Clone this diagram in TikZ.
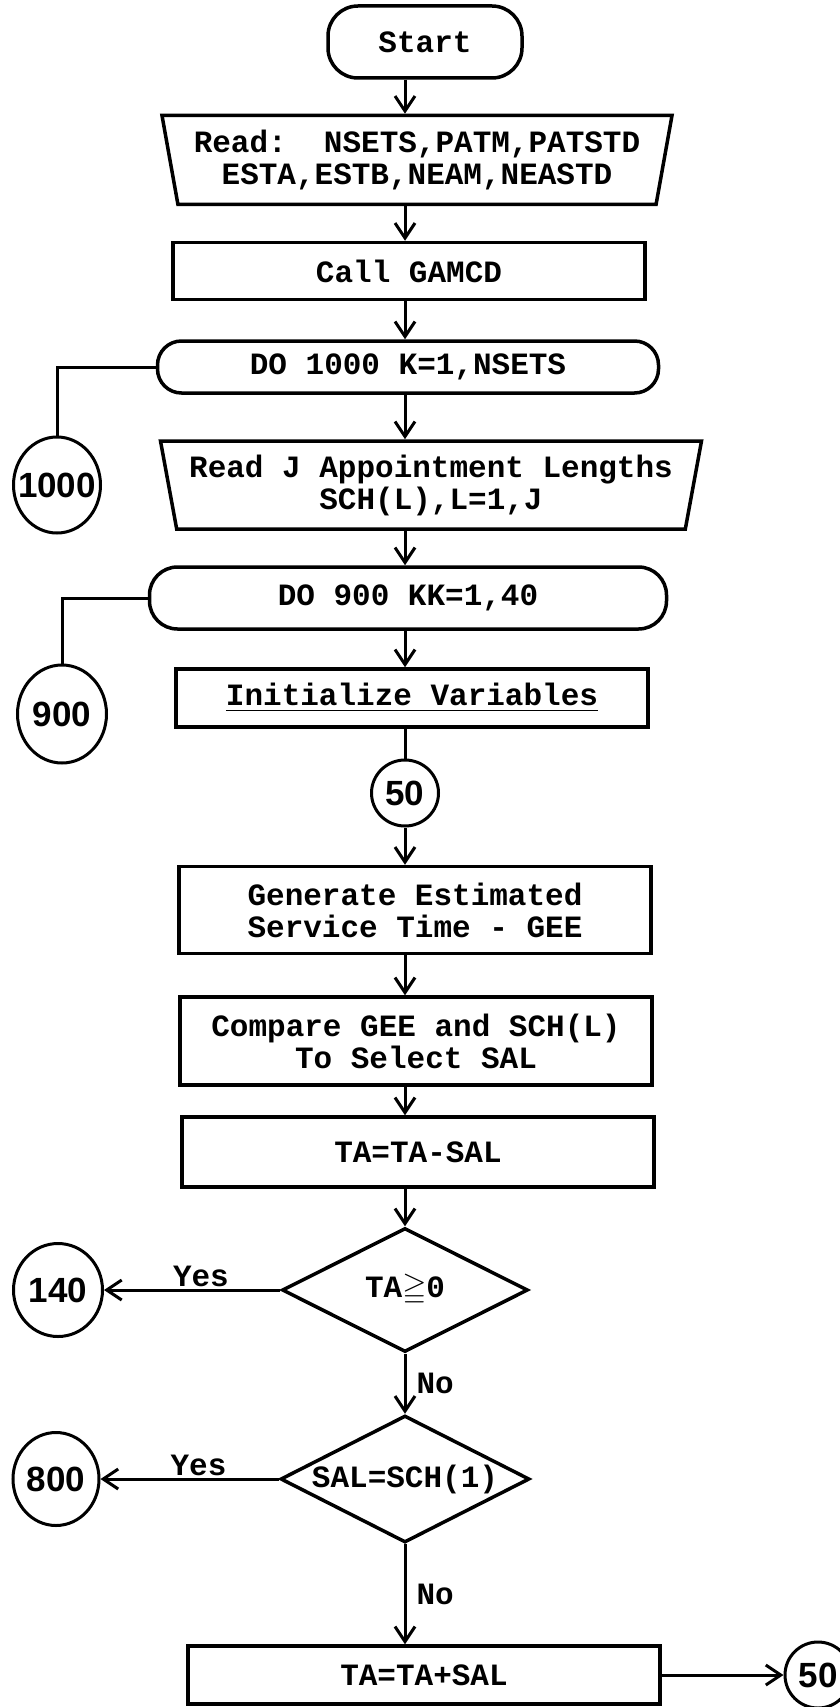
\documentclass[tikz,border=0pt]{standalone}
\usepackage{amssymb}
\usepackage{fontspec}
\usepackage{tikz}
\usetikzlibrary{shapes.geometric,arrows.meta,positioning}
\newfontfamily\flowtype{Liberation Mono}
\newfontfamily\flownum{Liberation Sans}
\newcommand{\cnum}[1]{\makebox[0pt]{#1}}

\begin{document}
\begin{tikzpicture}[
    x=1pt, y=-1pt,
    line width=3pt,
every node/.style = {inner sep=2pt, font=\flowtype\bfseries\fontsize{31}{32}\selectfont},
       arr/.style = {-{Straight Barb[length=15pt,width=20pt]}},
   procbox/.style = {draw, line width=3.5pt, rectangle, minimum width=472pt, align=center},
   loopbox/.style = {draw, line width=3.5pt, rectangle, rounded corners=24pt, align=center},
   readbox/.style = {draw, line width=3.5pt, trapezium, trapezium left angle=104,
                     trapezium right angle=104, trapezium stretches body, align=center},
    decide/.style = {draw, line width=3.5pt, diamond, aspect=2, inner sep=0pt},
      conn/.style = {draw, line width=3pt, ellipse, inner sep=0pt,
                     font=\flownum\bfseries\fontsize{35}{35}\selectfont}]
\useasboundingbox (0,0) rectangle (840,1707);
\fill[white] (0,0) rectangle (840,1707);
\coordinate (axis) at (405,0);

\node[loopbox, rounded corners=30pt, minimum width=194pt, minimum height=72pt]
                                        (start)  at (425,42)   {Start};
\node[readbox, minimum width=510pt, minimum height=89pt]
                                        (rdpar)  at (417,160)  {Read:\ \ NSETS,PATM,PATSTD\\ESTA,ESTB,NEAM,NEASTD};
\node[procbox, minimum height=57pt]     (gamcd)  at (409,271)  {Call GAMCD};
\node[loopbox, minimum width=501pt, minimum height=52pt]
                                        (do1000) at (408,367)  {DO 1000 K=1,NSETS};
\node[readbox, minimum width=541pt, minimum height=88pt]
                                        (rdsch)  at (431,485)  {Read J Appointment Lengths\\SCH(L),L=1,J};
\node[loopbox, rounded corners=28pt, minimum width=517pt, minimum height=62pt]
                                        (do900)  at (408,598)  {DO 900 KK=1,40};
\node[procbox, minimum height=58pt]     (init)   at (412,698)  {\underline{Initialize Variables}};
\node[conn, minimum width=67pt, minimum height=66pt]
                                        (c50)    at (405,793)  {\cnum{50}};
\node[procbox, minimum height=87pt]     (gee)    at (415,910)  {Generate Estimated\\Service Time - GEE};
\node[procbox, minimum height=88pt]     (sal)    at (416,1041) {Compare GEE and SCH(L)\\To Select SAL};
\node[procbox, minimum height=70pt]     (tasub)  at (418,1152) {TA=TA-SAL};
\node[decide, minimum width=246pt, minimum height=124pt]
                                        (tachk)  at (405,1290) {TA\(\geqq\)0};
\node[decide, minimum width=249pt, minimum height=127pt]
                                        (salchk) at (405,1479) {SAL=SCH(1)};
\node[procbox, minimum height=58pt]     (taadd)  at (424,1675) {TA=TA+SAL};
\node[conn, minimum size=66pt]          (c50b)   at (818,1675) {\cnum{50}};
\node[conn, minimum width=87pt, minimum height=96pt]
                                        (c1000)  at (57,485)   {\cnum{1000}};
\node[conn, minimum width=89pt, minimum height=98pt]
                                        (c900)   at (62,714)   {\cnum{900}};
\node[conn, minimum width=89pt, minimum height=93pt]
                                        (c140)   at (58,1290)  {\cnum{140}};
\node[conn, minimum width=86pt, minimum height=93pt]
                                        (c800)   at (56,1479)  {\cnum{800}};

    \draw[arr] (start.south -| axis)  -- (rdpar.north -| axis);
    \draw[arr] (rdpar.south -| axis)  -- (gamcd.north -| axis);
    \draw[arr] (gamcd.south -| axis)  -- (do1000.north -| axis);
    \draw[arr] (do1000.south -| axis) -- (rdsch.north -| axis);
    \draw[arr] (rdsch.south -| axis)  -- (do900.north -| axis);
    \draw[arr] (do900.south -| axis)  -- (init.north -| axis);
    \draw      (init.south -| axis)   -- (c50);
    \draw[arr] (c50)                  -- (gee.north -| c50);
    \draw[arr] (gee.south -| axis)    -- (sal.north -| axis);
    \draw[arr] (sal.south -| axis)    -- (tasub.north -| axis);
    \draw[arr] (tasub.south -| axis)  -- (tachk);
    \draw[arr] (tachk.west) -- node[above, pos=0.45] {Yes} (c140);
    \draw[arr] (tachk)      -- node[right=8pt]       {No}  (salchk);
    \draw[arr] (salchk.west) -- node[above, pos=0.45] {Yes} (c800);
    \draw[arr] (salchk.south) -- node[right=8pt]     {No}  (salchk.south |- taadd.north);
    \draw[arr] (taadd.east) -- (c50b);
    \draw (do1000.west) -| (c1000.north);
    \draw (do900.west)  -| (c900.north);
\end{tikzpicture}
\end{document}
